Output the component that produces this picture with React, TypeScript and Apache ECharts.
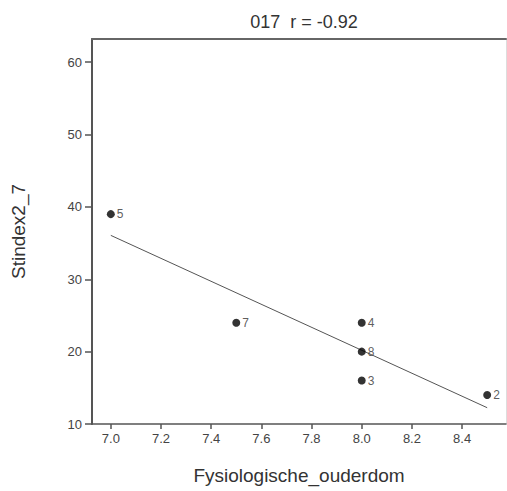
import React, { useEffect, useRef } from "react";
import * as echarts from "echarts";

const caseIds = ["5", "7", "4", "8", "3", "2"];
const ageValues = [7.0, 7.5, 8.0, 8.0, 8.0, 8.5];
const stindexValues = [39, 24, 24, 20, 16, 14];
const xTicks = [7.0, 7.2, 7.4, 7.6, 7.8, 8.0, 8.2, 8.4];
const yTicks = [10, 20, 30, 40, 50, 60];
const titleText = "017  r = -0.92";
const xName = "Fysiologische_ouderdom";
const yName = "Stindex2_7";

function linearFit(xs: number[], ys: number[]) {
  const n = xs.length;
  const mx = xs.reduce((a, b) => a + b, 0) / n;
  const my = ys.reduce((a, b) => a + b, 0) / n;
  let sxy = 0;
  let sxx = 0;
  for (let i = 0; i < n; i++) {
    sxy += (xs[i] - mx) * (ys[i] - my);
    sxx += (xs[i] - mx) * (xs[i] - mx);
  }
  const slope = sxy / sxx;
  const intercept = my - slope * mx;
  return { slope, intercept };
}

export default function App() {
  const ref = useRef<HTMLDivElement>(null);
  useEffect(() => {
    if (!ref.current) return;
    const chart = echarts.init(ref.current, undefined, { renderer: "svg" });
    const fit = linearFit(ageValues, stindexValues);
    const xMin = Math.min(...ageValues);
    const xMax = Math.max(...ageValues);
    const fitLine = [
      [xMin, fit.intercept + fit.slope * xMin],
      [xMax, fit.intercept + fit.slope * xMax],
    ];
    const points = ageValues.map((x, i) => [x, stindexValues[i], caseIds[i]]);
    const font = "'Liberation Sans', Arial, sans-serif";
    chart.setOption({
      animation: false,
      backgroundColor: "#fff",
      textStyle: { fontFamily: font },
      title: {
        text: titleText,
        left: 299,
        textAlign: "center",
        top: 8,
        textStyle: { fontSize: 18, fontWeight: "normal", color: "#333", fontFamily: font },
      },
      grid: { left: 92, top: 39, right: 1, bottom: 67, containLabel: false },
      xAxis: [
        {
          type: "value",
          min: 6.925,
          max: 8.575,
          position: "bottom",
          name: xName,
          nameLocation: "middle",
          nameGap: 42,
          nameTextStyle: { fontSize: 19, color: "#333", fontFamily: font },
          axisLine: { show: true, lineStyle: { color: "#555", width: 1.5 } },
          axisTick: { show: true, length: 5, customValues: xTicks, lineStyle: { color: "#555", width: 1.5 } },
          axisLabel: {
            customValues: xTicks,
            fontSize: 13,
            color: "#444",
            margin: 8,
            formatter: (v: number) => v.toFixed(1),
          },
          splitLine: { show: false },
        },
        {
          type: "value",
          min: 6.925,
          max: 8.575,
          position: "top",
          axisLine: { show: true, lineStyle: { color: "#666", width: 2 } },
          axisTick: { show: false },
          axisLabel: { show: false },
          splitLine: { show: false },
        },
      ],
      yAxis: [
        {
          type: "value",
          min: 10,
          max: 63.2,
          position: "left",
          name: yName,
          nameLocation: "middle",
          nameGap: 64,
          nameRotate: 90,
          nameTextStyle: { fontSize: 19, color: "#333", fontFamily: font },
          axisLine: { show: true, lineStyle: { color: "#555", width: 2 } },
          axisTick: { show: true, length: 7, customValues: yTicks, lineStyle: { color: "#555", width: 1.5 } },
          axisLabel: { customValues: yTicks, fontSize: 13, color: "#444", margin: 10 },
          splitLine: { show: false },
        },
        {
          type: "value",
          min: 10,
          max: 63.2,
          position: "right",
          axisLine: { show: true, lineStyle: { color: "#ddd", width: 1 } },
          axisTick: { show: false },
          axisLabel: { show: false },
          splitLine: { show: false },
        },
      ],
      series: [
        {
          type: "line",
          data: fitLine,
          showSymbol: false,
          symbol: "none",
          lineStyle: { color: "#555", width: 1 },
          silent: true,
          z: 1,
        },
        {
          type: "scatter",
          data: points,
          symbolSize: 8,
          itemStyle: { color: "#000" },
          label: {
            show: true,
            position: "right",
            distance: 2,
            fontSize: 12,
            color: "#333",
            formatter: (p: any) => p.data[2],
          },
          z: 3,
        },
      ],
    });
    return () => chart.dispose();
  }, []);
  return (
    <div
      ref={ref}
      style={{ position: "absolute", left: 0, top: 0, width: 507, height: 491 }}
    />
  );
}
